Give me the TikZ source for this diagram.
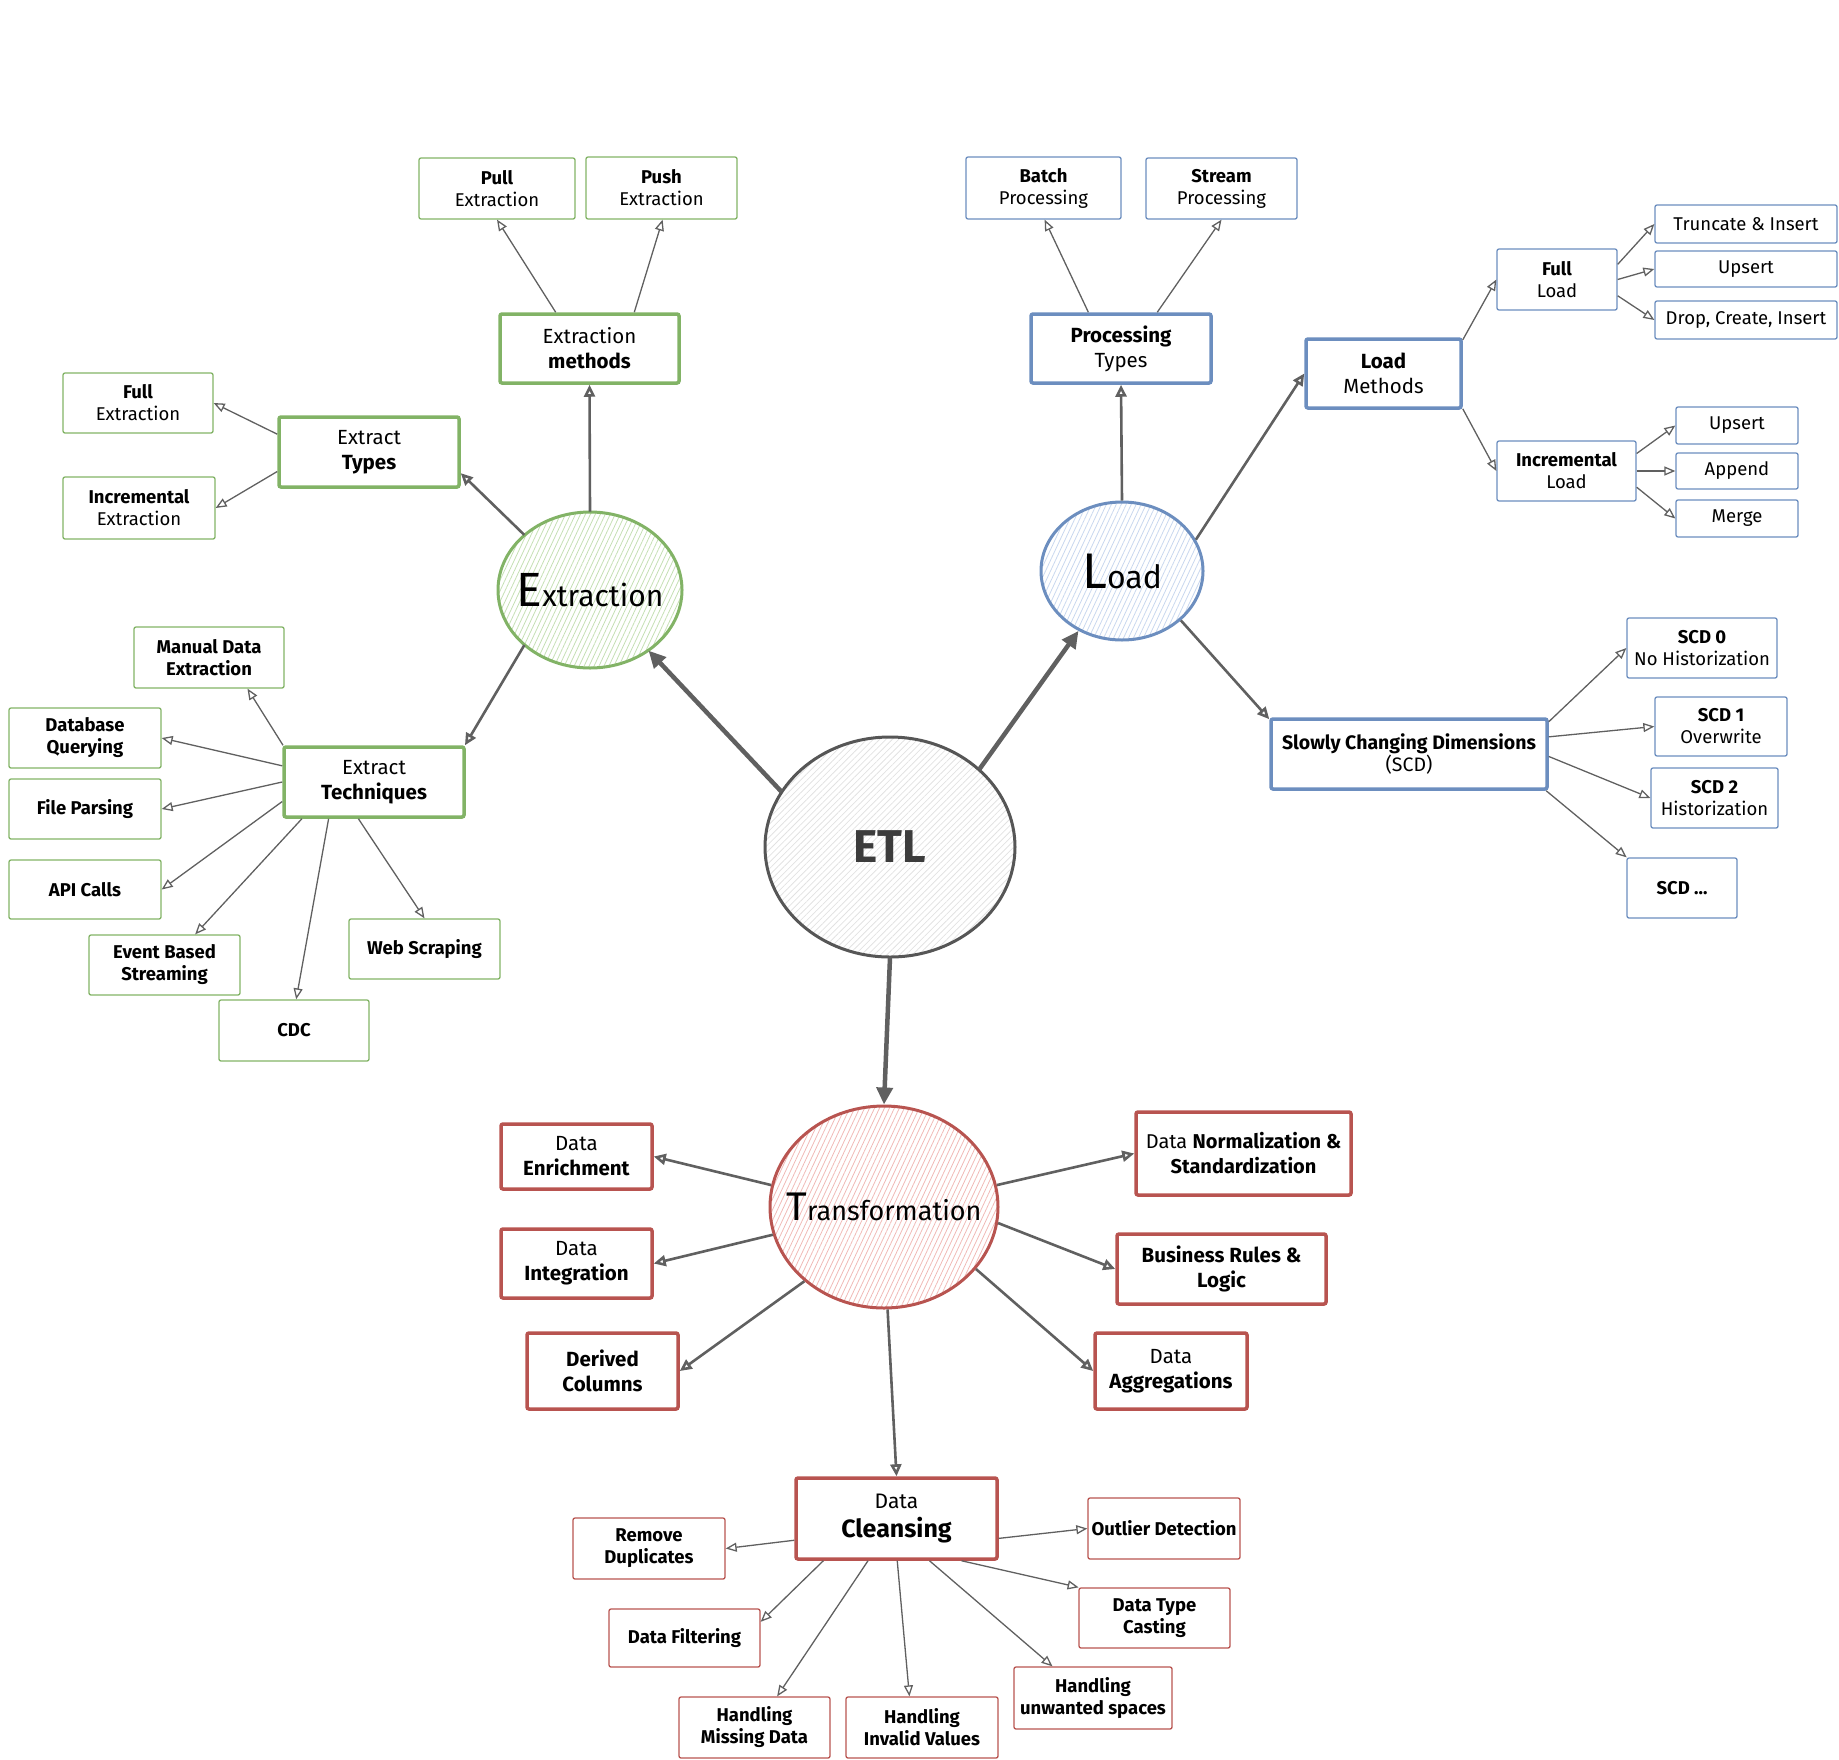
\documentclass[tikz,border=0pt]{standalone}
\usepackage{fontspec}
\setmainfont{Fira Sans}
\usetikzlibrary{shapes.geometric,arrows.meta,patterns.meta}

\definecolor{grn}{HTML}{82B366}
\definecolor{blu}{HTML}{6C8EBF}
\definecolor{rd}{HTML}{B85450}
\definecolor{arr}{HTML}{606060}
\definecolor{etlc}{HTML}{565656}
\definecolor{grnh}{HTML}{C4DFB3}
\definecolor{bluh}{HTML}{C8D7EE}
\definecolor{rdh}{HTML}{F0B9B6}
\definecolor{etlh}{HTML}{E2E2E2}

\begin{document}
\begin{tikzpicture}[x=1pt,y=-1pt,
  every node/.style={align=center, inner sep=0pt, text=black},
  box/.style={draw, rectangle, rounded corners=2pt, line width=1.3pt,
    font=\fontsize{18.5}{22}\selectfont},
  thickbox/.style={draw, rectangle, rounded corners=2pt, line width=3.5pt,
    font=\fontsize{20.5}{25}\selectfont},
  gbox/.style={box, draw=grn}, gthick/.style={thickbox, draw=grn},
  bbox/.style={box, draw=blu}, bthick/.style={thickbox, draw=blu},
  rbox/.style={box, draw=rd},  rthick/.style={thickbox, draw=rd},
  hub/.style={ellipse, line width=3pt, inner sep=0pt},
  hatch/.style={pattern={Lines[angle=#1,distance=4.5pt,line width=0.8pt]}},
  main/.style={draw=arr, line width=4.5pt, -{Triangle[length=17pt,width=16pt]}},
  mid/.style={draw=arr, line width=2.6pt, -{Triangle[open,length=12pt,width=11pt]}},
  thinar/.style={draw=arr, line width=1.3pt, -{Triangle[open,length=11pt,width=9pt]}},
]
\useasboundingbox (0,0) rectangle (1839,1759);

% ---------- hubs (labels boxed at zero width so the ellipse keeps its size) ----------
\node[hub, draw=etlc, hatch=45, pattern color=etlh,
  minimum width=250pt, minimum height=220pt] (etl) at (890,847)
  {\makebox[0pt]{\fontsize{46}{50}\selectfont\bfseries\color{etlc!70!black}ETL}};
\node[hub, draw=grn, hatch=65, pattern color=grnh,
  minimum width=184pt, minimum height=156pt] (extr) at (590,590)
  {\makebox[0pt]{\fontsize{48}{50}\selectfont E\fontsize{30}{32}\selectfont xtraction}};
\node[hub, draw=blu, hatch=65, pattern color=bluh,
  minimum width=162pt, minimum height=138pt] (load) at (1122,571)
  {\makebox[0pt]{\fontsize{50}{52}\selectfont L\fontsize{32}{34}\selectfont oad}};
\node[hub, draw=rd, hatch=65, pattern color=rdh,
  minimum width=228pt, minimum height=202pt] (trans) at (884,1207)
  {\makebox[0pt]{\fontsize{40}{42}\selectfont T\fontsize{27}{30}\selectfont ransformation}};

% ---------- extraction branch ----------
\node[gbox, minimum width=156pt, minimum height=61pt] (pull) at (497,188.5) {\textbf{Pull}\\Extraction};
\node[gbox, minimum width=151pt, minimum height=62pt] (push) at (661.5,188) {\textbf{Push}\\Extraction};
\node[gthick, minimum width=179pt, minimum height=69pt] (emeth) at (589.5,348.5) {Extraction\\\textbf{methods}};
\node[gbox, minimum width=150pt, minimum height=60pt] (fullx) at (138,403) {\textbf{Full}\\Extraction};
\node[gbox, minimum width=152pt, minimum height=62pt] (incx) at (139,508) {\textbf{Incremental}\\Extraction};
\node[gthick, minimum width=180pt, minimum height=70pt] (etypes) at (369,452) {Extract\\\textbf{Types}};
\node[gbox, minimum width=150pt, minimum height=61pt] (manual) at (209,657.5) {\textbf{Manual Data}\\\textbf{Extraction}};
\node[gbox, minimum width=152pt, minimum height=60pt] (dbq) at (85,738) {\textbf{Database}\\\textbf{Querying}};
\node[gbox, minimum width=152pt, minimum height=60pt] (file) at (85,809) {\textbf{File Parsing}};
\node[gbox, minimum width=152pt, minimum height=59pt] (api) at (85,889.5) {\textbf{API Calls}};
\node[gbox, minimum width=151pt, minimum height=60pt] (event) at (164.5,965) {\textbf{Event Based}\\\textbf{Streaming}};
\node[gbox, minimum width=150pt, minimum height=61pt] (cdc) at (294,1030.5) {\textbf{CDC}};
\node[gbox, minimum width=151pt, minimum height=60pt] (web) at (424.5,949) {\textbf{Web Scraping}};
\node[gthick, minimum width=180pt, minimum height=70pt] (etech) at (374,782) {Extract\\\textbf{Techniques}};

% ---------- load branch ----------
\node[bbox, minimum width=155pt, minimum height=62pt] (batch) at (1043.5,188) {\textbf{Batch}\\Processing};
\node[bbox, minimum width=151pt, minimum height=61pt] (stream) at (1221.5,188.5) {\textbf{Stream}\\Processing};
\node[bthick, minimum width=180pt, minimum height=69pt] (ptypes) at (1121,348.5) {\textbf{Processing}\\Types};
\node[bthick, minimum width=155pt, minimum height=69pt] (lmeth) at (1383.5,373.5) {\textbf{Load}\\Methods};
\node[bbox, minimum width=120pt, minimum height=61pt] (fullload) at (1557,279.5) {\textbf{Full}\\Load};
\node[bbox, minimum width=182pt, minimum height=38pt] (trunc) at (1746,224) {Truncate \& Insert};
\node[bbox, minimum width=182pt, minimum height=36pt] (ups1) at (1746,269) {Upsert};
\node[bbox, minimum width=182pt, minimum height=38pt] (drop) at (1746,320) {Drop, Create, Insert};
\node[bbox, minimum width=139pt, minimum height=60pt] (incload) at (1566.5,471) {\textbf{Incremental}\\Load};
\node[bbox, minimum width=122pt, minimum height=37pt] (ups2) at (1737,425.5) {Upsert};
\node[bbox, minimum width=122pt, minimum height=36pt] (app) at (1737,471) {Append};
\node[bbox, minimum width=122pt, minimum height=37pt] (merge) at (1737,518.5) {Merge};
\node[bthick, minimum width=276pt, minimum height=70pt, font=\fontsize{19.5}{22}\selectfont] (scd) at (1409,754)
  {\textbf{Slowly Changing Dimensions}\\(SCD)};
\node[bbox, minimum width=150pt, minimum height=60pt] (scd0) at (1702,648) {\textbf{SCD 0}\\No Historization};
\node[bbox, minimum width=132pt, minimum height=59pt] (scd1) at (1721,726.5) {\textbf{SCD 1}\\Overwrite};
\node[bbox, minimum width=127pt, minimum height=60pt] (scd2) at (1714.5,798) {\textbf{SCD 2}\\Historization};
\node[bbox, minimum width=110pt, minimum height=60pt] (scdn) at (1682,888) {\textbf{SCD ...}};

% ---------- transformation branch ----------
\node[rthick, minimum width=151pt, minimum height=65pt] (enrich) at (576.5,1156.5) {Data\\\textbf{Enrichment}};
\node[rthick, minimum width=151pt, minimum height=69pt] (integ) at (576.5,1263.5) {Data\\\textbf{Integration}};
\node[rthick, minimum width=151pt, minimum height=76pt] (derived) at (602.5,1371) {\textbf{Derived}\\\textbf{Columns}};
\node[rthick, minimum width=215pt, minimum height=83pt, font=\fontsize{20}{25}\selectfont] (norm) at (1243.5,1153.5)
  {Data \textbf{Normalization \&}\\\textbf{Standardization}};
\node[rthick, minimum width=209pt, minimum height=70pt] (brules) at (1221.5,1269) {\textbf{Business Rules \&}\\\textbf{Logic}};
\node[rthick, minimum width=152pt, minimum height=76pt] (aggr) at (1171,1371) {Data\\\textbf{Aggregations}};
\node[rthick, minimum width=201pt, minimum height=81pt, font=\fontsize{21}{29}\selectfont] (clean) at (896.5,1518.5)
  {Data\\\fontsize{25}{29}\selectfont\textbf{Cleansing}};
\node[rbox, minimum width=152pt, minimum height=61pt] (remdup) at (649,1548.5) {\textbf{Remove}\\\textbf{Duplicates}};
\node[rbox, minimum width=151pt, minimum height=58pt] (filt) at (684.5,1638) {\textbf{Data Filtering}};
\node[rbox, minimum width=151pt, minimum height=61pt] (missing) at (754.5,1727.5) {\textbf{Handling}\\\textbf{Missing Data}};
\node[rbox, minimum width=152pt, minimum height=61pt] (invalid) at (922,1727.5) {\textbf{Handling}\\\textbf{Invalid Values}};
\node[rbox, minimum width=158pt, minimum height=62pt] (spaces) at (1093,1698) {\textbf{Handling}\\\textbf{unwanted spaces}};
\node[rbox, minimum width=151pt, minimum height=60pt] (dtype) at (1154.5,1618) {\textbf{Data Type}\\\textbf{Casting}};
\node[rbox, minimum width=152pt, minimum height=61pt] (outlier) at (1164,1528.5) {\textbf{Outlier Detection}};

% ---------- connectors from the ETL hub ----------
\draw[main] (etl.153) -- (extr.-46);
\draw[main] (etl.41) -- (load.234);
\draw[main] (etl.-90) -- (trans.90);

% extraction
\draw[mid] (extr.140) -- (etypes.-13);
\draw[mid] (extr.90) -- (emeth.-90);
\draw[mid] (extr.220) -- (etech.22);
\draw[thinar] (emeth.133) -- (pull.-90);
\draw[thinar] (emeth.39) -- (push.-88);
\draw[thinar] (etypes.169) -- (fullx.0);
\draw[thinar] (etypes.192) -- (incx.0);
\draw[thinar] (etech.158) -- (manual.-39);
\draw[thinar] (etech.170) -- (dbq.0);
\draw[thinar] (etech.180) -- (file.0);
\draw[thinar] (etech.192) -- (api.0);
\draw[thinar] (etech.207) -- (event.45);
\draw[thinar] (etech.219) -- (cdc.86);
\draw[thinar] (etech.247) -- (web.90);

% load
\draw[mid] (load.90) -- (ptypes.-90);
\draw[mid] (load.23) -- (lmeth.180);
\draw[mid] (load.-40) -- (scd.166);
\draw[thinar] (ptypes.132) -- (batch.-88);
\draw[thinar] (ptypes.45) -- (stream.-90);
\draw[thinar] (lmeth.23) -- (fullload.180);
\draw[thinar] (lmeth.-24) -- (incload.180);
\draw[thinar] (fullload.14) -- (trunc.180);
\draw[thinar] (fullload.0) -- (ups1.180);
\draw[thinar] (fullload.-15) -- (drop.180);
\draw[thinar] (incload.14) -- (ups2.180);
\draw[thinar] (incload.0) -- (app.180);
\draw[thinar] (incload.-13) -- (merge.180);
\draw[thinar] (scd.13) -- (scd0.180);
\draw[thinar] (scd.7) -- (scd1.180);
\draw[thinar] (scd.-1) -- (scd2.180);
\draw[thinar] (scd.-15) -- (scdn.151);

% transformation
\draw[mid] (trans.169) -- (enrich.0);
\draw[mid] (trans.194) -- (integ.0);
\draw[mid] (trans.223) -- (derived.0);
\draw[mid] (trans.11) -- (norm.180);
\draw[mid] (trans.-8) -- (brules.180);
\draw[mid] (trans.-34) -- (aggr.180);
\draw[mid] (trans.-88) -- (clean.90);
\draw[thinar] (clean.192) -- (remdup.0);
\draw[thinar] (clean.-11) -- (outlier.180);
\draw[thinar] (clean.-150) -- (filt.12);
\draw[thinar] (clean.236) -- (missing.54);
\draw[thinar] (clean.-89) -- (invalid.112);
\draw[thinar] (clean.-52) -- (spaces.142);
\draw[thinar] (clean.-33) -- (dtype.158);
\end{tikzpicture}
\end{document}
